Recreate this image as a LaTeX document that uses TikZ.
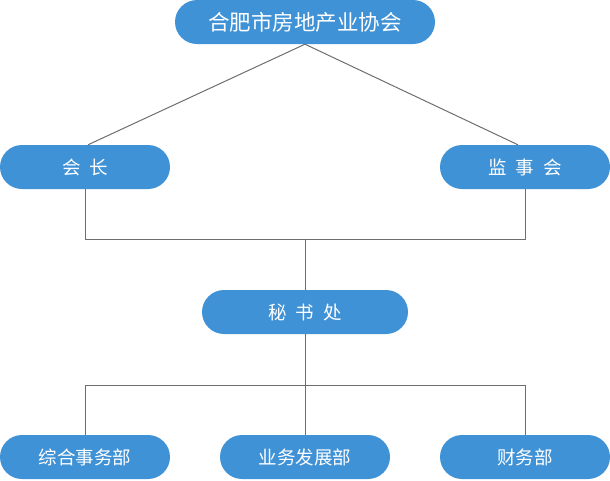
\documentclass[tikz,border=0pt]{standalone}
\usepackage{fontspec}
\newfontfamily\cjk{Noto Sans CJK SC}
\definecolor{boxblue}{HTML}{4092D6}
\definecolor{linegray}{HTML}{6E6E6E}
\begin{document}
\begin{tikzpicture}[x=1pt,y=-1pt,
  orgbox/.style={fill=boxblue, draw=none, rounded corners=22pt, minimum height=44pt, inner sep=0pt, text=white, font=\cjk\fontsize{18.5}{20}\selectfont},
  conn/.style={draw=linegray, line width=1pt}]
\useasboundingbox (0,0) rectangle (610,480);
\node[orgbox, minimum width=260pt, font=\cjk\fontsize{21.5}{23}\selectfont] (top) at (305,22) {合肥市房地产业协会};
\node[orgbox, minimum width=170pt] (hz) at (85,167) {会\hspace{9pt}长};
\node[orgbox, minimum width=170pt] (jsh) at (525,167) {监\hspace{9pt}事\hspace{9pt}会};
\node[orgbox, minimum width=206pt] (msc) at (305,312) {秘\hspace{9pt}书\hspace{9pt}处};
\node[orgbox, minimum width=170pt] (zh) at (85,457) {综合事务部};
\node[orgbox, minimum width=170pt] (yw) at (305,457) {业务发展部};
\node[orgbox, minimum width=170pt] (cw) at (525,457) {财务部};
\coordinate (j1) at (305,239);
\coordinate (j2) at (305,385);
\draw[conn] (top.south) -- ([xshift=3pt]hz.north);
\draw[conn] (top.south) -- ([xshift=-7pt]jsh.north);
\draw[conn] (hz.south) -- (hz.south |- j1) -- (jsh.south |- j1) -- (jsh.south);
\draw[conn] (j1) -- (msc.north);
\draw[conn] (msc.south) -- (j2);
\draw[conn] (zh.north) -- (zh.north |- j2) -- (cw.north |- j2) -- (cw.north);
\draw[conn] (j2) -- (yw.north);
\end{tikzpicture}
\end{document}
